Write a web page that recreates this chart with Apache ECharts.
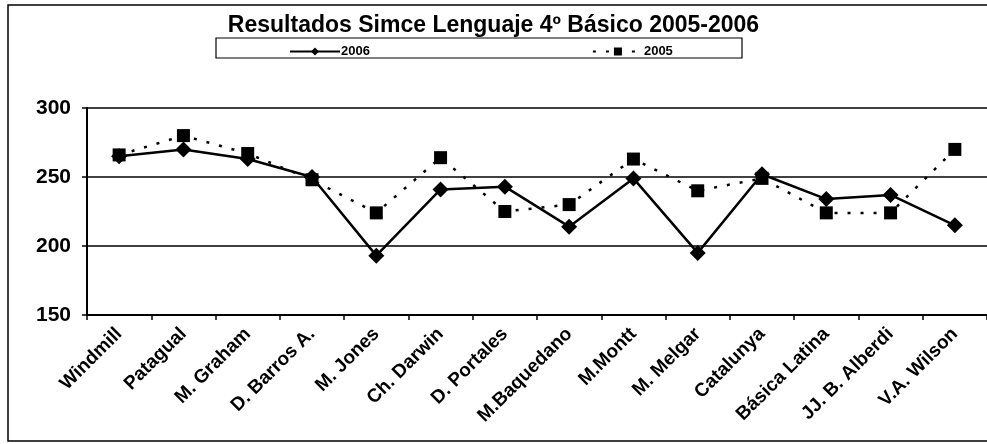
<!DOCTYPE html>
<html>
<head>
<meta charset="utf-8">
<script src="https://cdn.jsdelivr.net/npm/echarts@6/dist/echarts.min.js"></script>
<style>
  html, body { margin: 0; padding: 0; background: #fff; }
  #main { width: 987px; height: 444px; }
</style>
</head>
<body>
<div id="main"></div>
<script>
// colegios
var schools = ['Windmill', 'Patagual', 'M. Graham', 'D. Barros A.', 'M. Jones', 'Ch. Darwin',
  'D. Portales', 'M.Baquedano', 'M.Montt', 'M. Melgar', 'Catalunya', 'Básica Latina',
  'JJ. B. Alberdi', 'V.A. Wilson']
// puntajes
var y2006 = [265, 270, 263, 250, 193, 241, 243, 214, 249, 195, 252, 234, 237, 215]
var y2005 = [266, 280, 267, 248, 224, 264, 225, 230, 263, 240, 249, 224, 224, 270]

var myChart = echarts.init(document.getElementById('main'))
var font = 'Liberation Sans, Arial, sans-serif'

var option = {
  backgroundColor: '#fff',
  animation: false,
  textStyle: { fontFamily: font, color: '#000' },
  title: {
    text: 'Resultados Simce Lenguaje 4º Básico 2005-2006',
    left: 'center',
    top: 9,
    textStyle: { fontSize: 23, fontWeight: 'bold', color: '#000', fontFamily: font },
  },
  graphic: [
    {
      type: 'rect',
      shape: { x: 8, y: 5, width: 990, height: 436 },
      style: { fill: 'none', stroke: '#000', lineWidth: 1.5 },
    },
    {
      type: 'rect',
      shape: { x: 216, y: 38, width: 526, height: 20 },
      style: { fill: 'none', stroke: '#000', lineWidth: 1.2 },
    },
  ],
  legend: {
    left: 284,
    top: 40,
    itemGap: 222,
    itemWidth: 50,
    itemHeight: 10,
    textStyle: { fontSize: 13, fontWeight: 'bold', color: '#000', fontFamily: font, padding: [0, 0, 0, -4] },
    data: ['2006', '2005'],
  },
  grid: { left: 87, top: 108, width: 903, height: 207 },
  xAxis: {
    type: 'category',
    data: schools,
    axisLine: { lineStyle: { color: '#000', width: 2 } },
    axisTick: { show: true, length: 5, lineStyle: { color: '#000', width: 1.5 } },
    axisLabel: { rotate: 45, fontSize: 19, fontWeight: 'bold', color: '#000', fontFamily: font, margin: 16, interval: 0 },
  },
  yAxis: {
    type: 'value',
    min: 150,
    max: 300,
    interval: 50,
    axisLine: { show: true, lineStyle: { color: '#000', width: 2 } },
    axisTick: { show: true, length: 5, lineStyle: { color: '#000', width: 1.5 } },
    axisLabel: { fontSize: 21, fontWeight: 'bold', color: '#000', fontFamily: font, margin: 16 },
    splitLine: { lineStyle: { color: '#000', width: 1.5 } },
  },
  series: [
    {
      name: '2006',
      type: 'line',
      data: y2006,
      symbol: 'diamond',
      symbolSize: 16,
      itemStyle: { color: '#000' },
      lineStyle: { color: '#000', width: 2.5 },
      z: 3,
    },
    {
      name: '2005',
      type: 'line',
      data: y2005,
      symbol: 'rect',
      symbolSize: 13,
      itemStyle: { color: '#000' },
      lineStyle: { color: '#000', width: 2.5, type: [3, 10] },
      z: 2,
    },
  ],
}

myChart.setOption(option)
</script>
</body>
</html>
